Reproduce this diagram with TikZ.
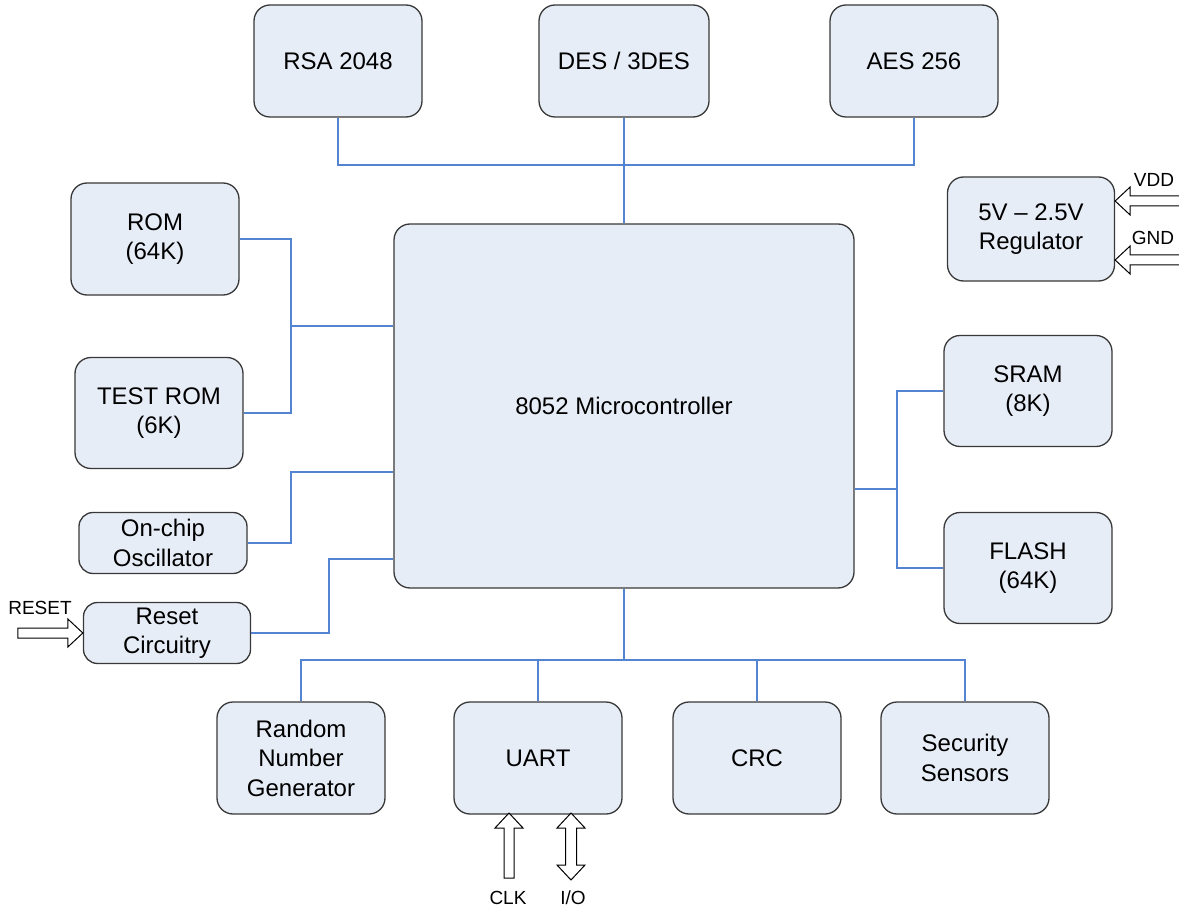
\documentclass[tikz,border=0pt]{standalone}
\usepackage{fontspec}
\setmainfont{Liberation Sans}
\usetikzlibrary{arrows.meta}

\definecolor{boxfill}{RGB}{231,237,247}
\definecolor{boxline}{RGB}{56,56,56}
\definecolor{busblue}{RGB}{82,132,210}

\tikzset{
    block/.style={draw=boxline,fill=boxfill,line width=1.3pt,rounded corners=16pt,
        align=center,inner sep=0pt,font=\fontsize{24}{29.5}\selectfont},
    bus/.style={draw=busblue,line width=1.2pt},
    lbl/.style={inner sep=0pt,font=\fontsize{19}{22}\selectfont},
    pics/inarrow/.style={code={
        \draw[line width=1pt,fill=white] (0,0) -- (-15,-14) -- (-15,-5) -- (-65,-5)
            -- (-65,5) -- (-15,5) -- (-15,14) -- cycle;}},
    pics/twoarrow/.style={code={
        \draw[line width=1pt,fill=white] (0,0) -- (-15,-14) -- (-15,-5.5) -- (-52,-5.5)
            -- (-52,-14) -- (-67,0) -- (-52,14) -- (-52,5.5) -- (-15,5.5) -- (-15,14) -- cycle;}}
}

\begin{document}
\begin{tikzpicture}[x=1pt,y=-1pt]
    \useasboundingbox (0,0) rectangle (1179,912);
    % crypto blocks
    \node[block,minimum width=168pt,minimum height=112pt] (rsa) at (338,61) {RSA 2048};
    \node[block,minimum width=170pt,minimum height=112pt] (des) at (624,61) {DES / 3DES};
    \node[block,minimum width=168pt,minimum height=112pt] (aes) at (914,61) {AES 256};
    % core
    \node[block,minimum width=460pt,minimum height=364pt] (mcu) at (624,406) {8052 Microcontroller};
    % left side
    \node[block,minimum width=168pt,minimum height=112pt] (rom) at (155,239) {ROM\\(64K)};
    \node[block,minimum width=168pt,minimum height=111pt] (testrom) at (159,413) {TEST ROM\\(6K)};
    \node[block,minimum width=168pt,minimum height=61pt,rounded corners=14pt] (osc) at (163,543) {On-chip\\Oscillator};
    \node[block,minimum width=167pt,minimum height=61pt,rounded corners=14pt] (rst) at (167,633) {Reset\\Circuitry};
    % right side
    \node[block,minimum width=167pt,minimum height=104pt] (reg) at (1031,229) {5V -- 2.5V\\Regulator};
    \node[block,minimum width=168pt,minimum height=111pt] (sram) at (1028,391) {SRAM\\(8K)};
    \node[block,minimum width=168pt,minimum height=111pt] (flash) at (1028,568) {FLASH\\(64K)};
    % peripherals
    \node[block,minimum width=168pt,minimum height=112pt] (rng) at (301,758) {Random\\Number\\Generator};
    \node[block,minimum width=168pt,minimum height=112pt] (uart) at (538,758) {UART};
    \node[block,minimum width=168pt,minimum height=112pt] (crc) at (757,758) {CRC};
    \node[block,minimum width=168pt,minimum height=112pt] (sec) at (965,758) {Security\\Sensors};

    % buses
    \coordinate (topbus) at (624,165);
    \coordinate (lbus) at (291,326);
    \coordinate (oscbend) at (291,472);
    \coordinate (rstbend) at (329,559);
    \coordinate (rbus) at (897,489);
    \coordinate (bbus) at (624,660);
    \draw[bus] (rsa.south) |- (topbus) -| (aes.south);
    \draw[bus] (des.south) -- (mcu.north);
    \draw[bus] (rom.east) -| (lbus) |- (testrom.east);
    \draw[bus] (lbus) -- (lbus -| mcu.west);
    \draw[bus] (osc.east) -| (oscbend) -- (oscbend -| mcu.west);
    \draw[bus] (rst.east) -| (rstbend) -- (rstbend -| mcu.west);
    \draw[bus] (sram.west) -| (rbus) |- (flash.west);
    \draw[bus] (rbus) -- (rbus -| mcu.east);
    \draw[bus] (mcu.south) -- (bbus);
    \draw[bus] (rng.north) |- (bbus) -| (sec.north);
    \draw[bus] (uart.north) -- (uart.north |- bbus);
    \draw[bus] (crc.north) -- (crc.north |- bbus);

    % external signals
    \pic at (rst.west) {inarrow};
    \pic[rotate=180] at ([yshift=28pt]reg.east) {inarrow};
    \pic[rotate=180] at ([yshift=-31pt]reg.east) {inarrow};
    \coordinate (clkin) at (509,813);
    \coordinate (ioin) at (571,813);
    \pic[rotate=90] at (clkin) {inarrow};
    \pic[rotate=90] at (ioin) {twoarrow};
    \node[lbl] (resetlbl) at (40,608) {RESET};
    \node[lbl] (vddlbl) at (1154,180) {VDD};
    \node[lbl] (gndlbl) at (1153,238) {GND};
    \node[lbl] (clklbl) at (508,898) {CLK};
    \node[lbl] (iolbl) at (573,898) {I/O};
\end{tikzpicture}
\end{document}
